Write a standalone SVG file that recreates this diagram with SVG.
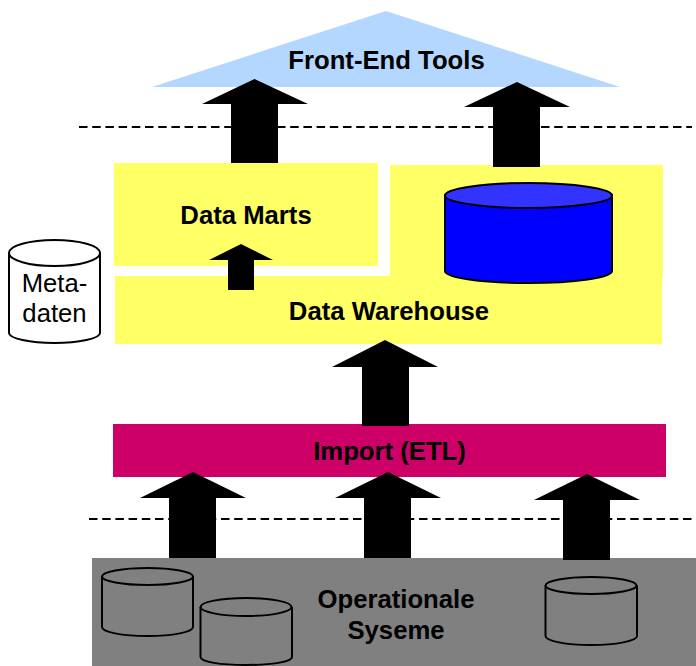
<svg xmlns="http://www.w3.org/2000/svg" width="696" height="666" viewBox="0 0 696 666">
<style>
text{font-family:"Liberation Sans",Arial,sans-serif;font-weight:bold;font-size:25.7px;fill:#000;text-anchor:middle}
.y{fill:#ffff66}
.a{fill:#000}
.d{fill:none;stroke:#000;stroke-width:2;stroke-dasharray:8.5 4.7}
.c{fill:none;stroke:#000;stroke-width:2}
</style>
<g id="front-end-tools"><polygon points="386,11 620,87 152,87" fill="#b3d7ff"/><text x="386.500" y="69">Front-End Tools</text></g>
<g id="data-marts"><rect class="y" x="114" y="163" width="264" height="103"/><text x="246" y="224">Data Marts</text></g>
<g id="data-warehouse"><path class="y" d="M390 165H663V278H662V344H115V276H390Z"/><text x="389" y="320">Data Warehouse</text></g>
<g id="warehouse-db"><path d="M445 195V271C445 277.600 482 283 528.500 283S612 277.600 612 271V195Z" fill="#0000ff" stroke="#000" stroke-width="2"/><ellipse cx="528.500" cy="195.500" rx="83.500" ry="12.500" fill="#3333ff" stroke="#000" stroke-width="2"/></g>
<g id="import-etl"><rect x="113" y="424" width="553" height="53" fill="#cc0066"/><text x="389.500" y="460">Import (ETL)</text></g>
<g id="operationale-systeme"><rect x="92" y="558" width="604" height="108" fill="#808080"/><text x="396" y="608">Operationale</text><text x="396" y="639">Syseme</text>
<path class="c" d="M102 576V627C102 632 122 636 147.500 636S193 632 193 627V576"/><ellipse class="c" cx="147.500" cy="576.500" rx="45.500" ry="8.500"/>
<path class="c" d="M200.500 607V657C200.500 662 221 665 246 665S292 662 292 657V607"/><ellipse class="c" cx="246" cy="607" rx="45.500" ry="9"/>
<path class="c" d="M545.500 585.500V636C545.500 641 566 645 591 645S637 641 637 636V585.500"/><ellipse class="c" cx="591" cy="585.500" rx="45.500" ry="8.500"/></g>
<g id="metadaten"><path d="M9 253V333C9 338.500 30 343 54.500 343S100 338.500 100 333V253Z" fill="#fff" stroke="#000" stroke-width="2"/><ellipse cx="54.500" cy="253" rx="45.500" ry="13" fill="#fff" stroke="#000" stroke-width="2"/><text x="54.500" y="292" style="font-weight:normal">Meta-</text><text x="54.500" y="322" style="font-weight:normal">daten</text></g>
<g id="connectors">
<line class="d" x1="79" y1="127" x2="692" y2="127"/>
<line class="d" x1="89" y1="519" x2="696" y2="519"/>
<path class="a" d="M254.500 79L308 104H278V163H231V104H202Z"/>
<path class="a" d="M517 82L570 107H540V167H493V107H464Z"/>
<path class="a" d="M385 340L438 367H409V426H362V367H332Z"/>
<path class="a" d="M241 244L273 260H254V290H228V260H209Z"/>
<path class="a" d="M193 472L246 498H216V558H169V498H140Z"/>
<path class="a" d="M388 472L441 498H411V558H364V498H335Z"/>
<path class="a" d="M587 474L640 500H610V560H563V500H534Z"/>
</g>
</svg>
